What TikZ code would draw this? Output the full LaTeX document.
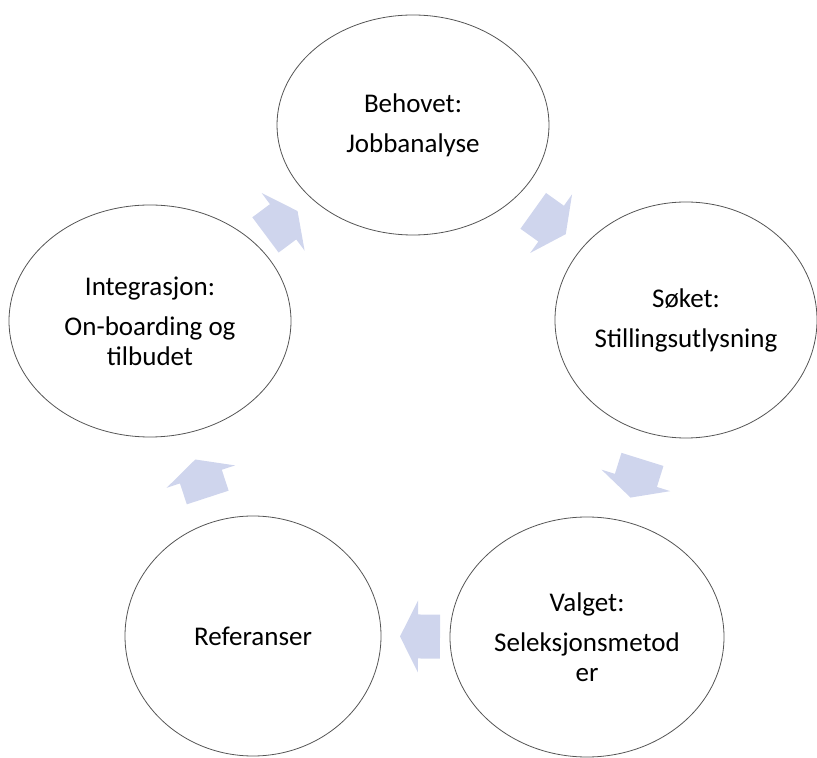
\documentclass[tikz,border=0pt]{standalone}
\usepackage{fontspec}
\setmainfont{Carlito}
\usetikzlibrary{shapes.geometric,calc}
\definecolor{ringline}{RGB}{85,85,85}
\definecolor{flowfill}{RGB}{207,213,237}
\begin{document}
\begin{tikzpicture}[x=1pt,y=1pt,
  stage/.style={ellipse, draw=ringline, line width=0.8pt, fill=white,
    inner sep=0pt, align=center, font=\fontsize{27}{30}\selectfont},
  % block arrow pointing along +x, centred on the origin
  cyclearrow/.pic={\fill[flowfill] (20,0) -- (2,36) -- (2,22) -- (-20,22)
    -- (-20,-22) -- (2,-22) -- (2,-36) -- cycle;}]
\useasboundingbox (0,0) rectangle (817,758);

\node[stage, minimum width=272pt, minimum height=220pt] (need) at (413,633)
  {Behovet:\\[10pt]Jobbanalyse};
\node[stage, minimum width=262pt, minimum height=236pt] (search) at (686,438)
  {Søket:\\[10pt]Stillingsutlysning};
\node[stage, minimum width=274pt, minimum height=240pt] (choice) at (587,121)
  {Valget:\\[10pt]Seleksjonsmetod\\er};
\node[stage, minimum width=256pt, minimum height=240pt] (refs) at (253,122)
  {Referanser};
\node[stage, minimum width=282pt, minimum height=232pt] (onboard) at (150,437)
  {Integrasjon:\\[10pt]On-boarding og\\tilbudet};

% arrows halfway between consecutive stages, facing the next one
\foreach \from/\to in {need/search, search/choice, choice/refs, refs/onboard, onboard/need}{
  \path let \p1 = ($(\to)-(\from)$), \n1 = {atan2(\y1,\x1)} in
    pic[rotate=\n1] at ($(\from)!0.5!(\to)$) {cyclearrow};
}
\end{tikzpicture}
\end{document}
